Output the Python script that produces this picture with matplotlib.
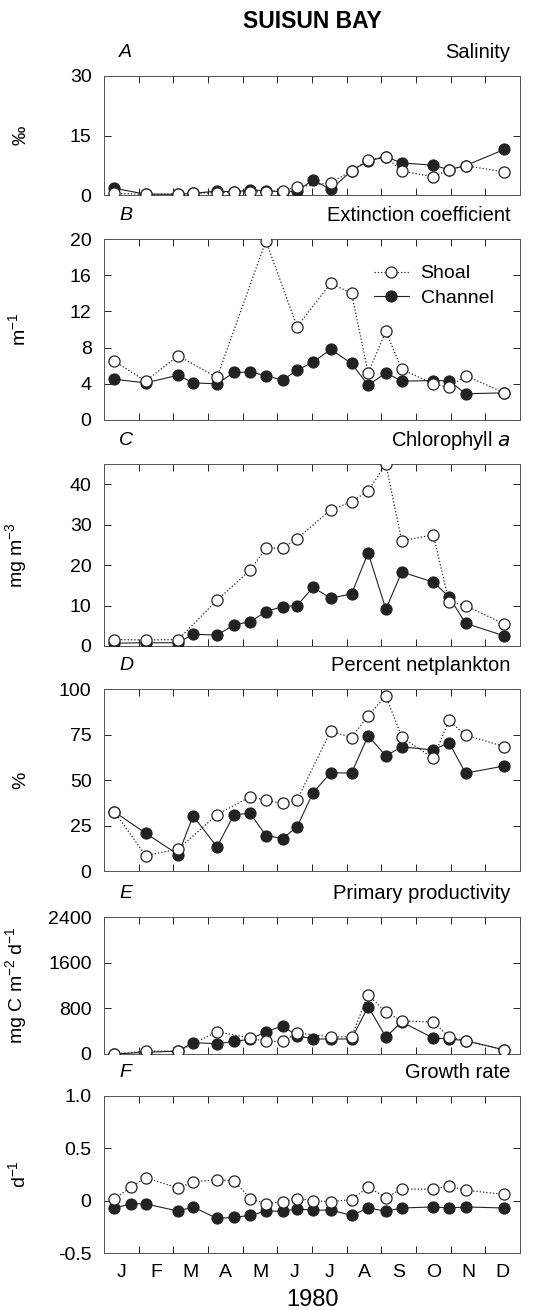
import numpy as np
import matplotlib
matplotlib.use("Agg")
import matplotlib.pyplot as plt

plt.rcParams["font.family"] = ["Liberation Sans", "DejaVu Sans"]
plt.rcParams["mathtext.default"] = "regular"

# sampling dates, in months from 1 Jan 1980
sample_month = [0.3, 0.79, 1.2, 2.14, 2.57, 3.26, 3.75, 4.22, 4.67, 5.15, 5.57,
                6.03, 6.54, 7.14, 7.62, 8.13, 8.59, 9.5, 9.95, 10.43, 11.55]
nan = np.nan

salinity_shoal = [0.4, nan, 0.2, 0.2, 0.4, 0.6, 0.8, 0.8, 0.8, 1.1, 2.0,
                  nan, 3.1, 6.1, 8.9, 9.7, 6.0, 4.6, 6.4, 7.4, 5.8]
salinity_channel = [1.7, nan, 0.2, 0.2, 0.4, 1.0, 0.8, 1.25, 1.1, 0.8, 1.0,
                    3.8, 1.4, 6.1, 8.6, 9.6, 8.1, 7.5, 6.4, 7.4, 11.5]

extinction_shoal = [6.5, nan, 4.3, 7.1, nan, 4.7, nan, nan, 19.8, nan, 10.3,
                    nan, 15.1, 14.0, 5.2, 9.8, 5.6, 4.0, 3.6, 4.9, 3.0]
extinction_channel = [4.5, nan, 4.1, 4.95, 4.1, 4.0, 5.25, 5.3, 4.9, 4.4, 5.5,
                      6.4, 7.8, 6.25, 3.85, 5.2, 4.3, 4.35, 4.35, 2.9, 3.0]

chla_shoal = [1.6, nan, 1.5, 1.6, nan, 11.3, nan, 18.8, 24.2, 24.2, 26.5,
              nan, 33.7, 35.6, 38.4, 44.9, 26.0, 27.5, 11.0, 10.0, 5.4]
chla_channel = [0.7, nan, 0.8, 0.8, 2.9, 2.7, 5.2, 6.0, 8.5, 9.75, 10.0,
                14.5, 11.8, 12.9, 23.0, 9.1, 18.3, 15.8, 12.2, 5.6, 2.5]

netplankton_shoal = [32.5, nan, 8.5, 12.0, nan, 31.0, nan, 40.8, 38.8, 37.2, 39.0,
                     nan, 77.0, 73.3, 85.3, 96.3, 73.5, 62.0, 82.7, 74.6, 68.4]
netplankton_channel = [32.5, nan, 20.8, 9.0, 30.2, 13.3, 31.0, 31.6, 19.5, 17.8, 24.3,
                       43.0, 54.0, 53.8, 74.3, 63.3, 68.2, 66.5, 70.6, 53.8, 57.7]

productivity_shoal = [0, nan, 50, 50, nan, 390, nan, 280, 220, 220, 370,
                      nan, 300, 300, 1040, 730, 580, 560, 300, 233, 72]
productivity_channel = [0, nan, 30, 50, 200, 180, 220, 260, 390, 490, 320,
                        263, 263, 263, 830, 300, 560, 280, 263, 233, 72]

growth_shoal = [0.02, 0.13, 0.22, 0.12, 0.18, 0.20, 0.19, 0.02, -0.03, -0.01, 0.02,
                0.0, -0.01, 0.01, 0.13, 0.03, 0.11, 0.11, 0.14, 0.10, 0.06]
growth_channel = [-0.07, -0.03, -0.03, -0.10, -0.06, -0.17, -0.16, -0.14, -0.10, -0.10, -0.08,
                  -0.09, -0.09, -0.14, -0.07, -0.10, -0.07, -0.06, -0.07, -0.06, -0.07]

month_labels = ["J", "F", "M", "A", "M", "J", "J", "A", "S", "O", "N", "D"]

panels = [
    ("A", "Salinity", "\u2030", (0, 30), [0, 15, 30], salinity_shoal, salinity_channel),
    ("B", "Extinction coefficient", "m$^{-1}$", (0, 20), [0, 4, 8, 12, 16, 20],
     extinction_shoal, extinction_channel),
    ("C", "Chlorophyll $\\mathit{a}$", "mg m$^{-3}$", (0, 45), [0, 10, 20, 30, 40],
     chla_shoal, chla_channel),
    ("D", "Percent netplankton", "%", (0, 100), [0, 25, 50, 75, 100],
     netplankton_shoal, netplankton_channel),
    ("E", "Primary productivity", "mg C m$^{-2}$ d$^{-1}$", (0, 2400), [0, 800, 1600, 2400],
     productivity_shoal, productivity_channel),
    ("F", "Growth rate", "d$^{-1}$", (-0.5, 1.0), [-0.5, 0, 0.5, 1.0],
     growth_shoal, growth_channel),
]

W, H = 539, 1310
# axes boxes in pixels: (top, bottom)
boxes = [(76, 195), (239, 420), (464, 646), (689, 871), (917, 1054), (1096, 1253)]
left_px, right_px = 104, 520

fig = plt.figure(figsize=(W / 100, H / 100), dpi=100)
fig.text(312 / W, 1 - 22 / H, "SUISUN BAY", ha="center", va="center",
         fontsize=16.5, fontweight="bold")

x = np.array(sample_month)
ink = "#222222"

for i, (letter, name, ylab, ylim, yticks, shoal, channel) in enumerate(panels):
    top, bot = boxes[i]
    ax = fig.add_axes([left_px / W, 1 - bot / H, (right_px - left_px) / W, (bot - top) / H])
    s = np.array(shoal, dtype=float)
    c = np.array(channel, dtype=float)
    ms = ~np.isnan(s)
    mc = ~np.isnan(c)
    ax.plot(x[mc], c[mc], "-", color=ink, lw=0.8, marker="o", ms=8,
            mfc=ink, mec=ink, mew=0.8, label="Channel", zorder=3)
    ax.plot(x[ms], s[ms], ":", color=ink, lw=0.9, marker="o", ms=8,
            mfc="white", mec=ink, mew=0.9, label="Shoal", zorder=4)

    ax.set_xlim(0, 12)
    ax.set_ylim(*ylim)
    ax.set_yticks(yticks)
    ax.set_yticklabels([("%g" % v) if not (i == 5 and v == 1.0) else "1.0" for v in yticks])
    ax.set_xticks(range(13))
    ax.tick_params(axis="both", direction="in", length=5, width=0.7, color=ink,
                   top=True, right=True, labelsize=14, pad=9)
    if i == 5:
        ax.set_xticklabels([])
        ax.set_xticks(np.arange(12) + 0.5, minor=True)
        ax.set_xticklabels(month_labels, minor=True)
        ax.tick_params(axis="x", which="minor", length=0, labelsize=14, pad=8)
        ax.set_xlabel("1980", fontsize=17, labelpad=6)
    else:
        ax.set_xticklabels([])
    for sp in ax.spines.values():
        sp.set_linewidth(0.7)
        sp.set_color("#555555")

    ax.set_ylabel(ylab, fontsize=14)
    ax.yaxis.set_label_coords(-0.18, 0.5)

    ax.annotate(letter, xy=(0, 1), xycoords="axes fraction", xytext=(11, 17),
                textcoords="offset points", fontsize=14, style="italic",
                ha="left", va="center")
    ax.annotate(name, xy=(1, 1), xycoords="axes fraction", xytext=(-7, 17),
                textcoords="offset points", fontsize=14.5, ha="right", va="center")

    if i == 1:
        h, l = ax.get_legend_handles_labels()
        ax.legend(h[::-1], l[::-1], loc="upper left", bbox_to_anchor=(0.63, 0.9),
                  frameon=False, fontsize=14, handlelength=1.8, handletextpad=0.6,
                  labelspacing=0.35, borderaxespad=0)

fig.savefig("out.png", dpi=100)
